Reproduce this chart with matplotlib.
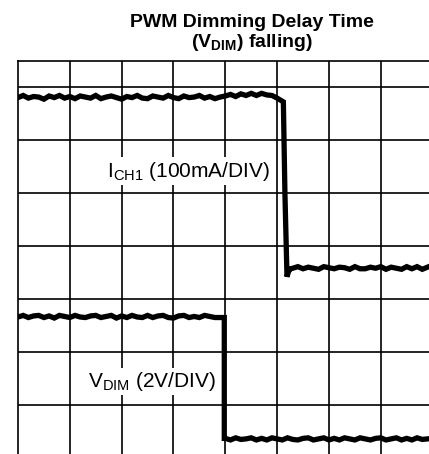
import numpy as np
from matplotlib import pyplot as plt

plt.rcParams['font.family'] = ['Liberation Sans', 'DejaVu Sans']
plt.rcParams['mathtext.fontset'] = 'custom'
plt.rcParams['mathtext.rm'] = 'Liberation Sans'
plt.rcParams['mathtext.bf'] = 'Liberation Sans:bold'

###
# Data (scope divisions)
###

# I_CH1 trace: high level, falling edge, low level
ich1_high = [6.80, 6.84, 6.79, 6.82, 6.81, 6.77, 6.83, 6.80, 6.84, 6.79,
             6.82, 6.78, 6.83, 6.81, 6.79, 6.84, 6.78, 6.81, 6.83, 6.80,
             6.77, 6.82, 6.80, 6.84, 6.79, 6.78, 6.83, 6.81, 6.79, 6.84,
             6.80, 6.78, 6.83, 6.80, 6.81, 6.84, 6.79, 6.82, 6.78, 6.81,
             6.83, 6.86, 6.82, 6.87, 6.84, 6.88, 6.84, 6.88, 6.85, 6.84,
             6.79]
ich1_edge_t = [5.05, 5.12, 5.15, 5.19, 5.22, 5.26]
ich1_edge_v = [6.76, 6.72, 5.00, 3.42, 3.52, 3.57]
ich1_low = [3.58, 3.61, 3.57, 3.60, 3.58, 3.56, 3.61, 3.59, 3.57, 3.60,
            3.59, 3.56, 3.61, 3.57, 3.57, 3.60, 3.58, 3.61, 3.56, 3.60,
            3.58, 3.56, 3.61, 3.57, 3.61, 3.56, 3.60]

# V_DIM trace: high level, edge, low level
vdim_high = [2.66, 2.69, 2.65, 2.68, 2.69, 2.65, 2.68, 2.64, 2.69, 2.67,
             2.65, 2.69, 2.66, 2.65, 2.68, 2.69, 2.65, 2.67, 2.69, 2.64,
             2.68, 2.65, 2.69, 2.66, 2.65, 2.69, 2.65, 2.68, 2.69, 2.65,
             2.64, 2.68, 2.69, 2.65, 2.67, 2.65, 2.69, 2.67, 2.65, 2.65]
vdim_edge_t = 3.98
vdim_low = [0.37, 0.34, 0.38, 0.35, 0.36, 0.38, 0.34, 0.37, 0.34, 0.38,
            0.36, 0.34, 0.38, 0.35, 0.34, 0.37, 0.38, 0.34, 0.36, 0.38,
            0.34, 0.37, 0.34, 0.38, 0.36, 0.34, 0.38, 0.36, 0.34, 0.37,
            0.38, 0.34, 0.36, 0.38, 0.34, 0.37, 0.34, 0.38, 0.35, 0.36]

step = 0.1

###
# Build the traces
###

ich1_x = np.concatenate([np.arange(len(ich1_high)) * step,
                         ich1_edge_t,
                         5.3 + np.arange(len(ich1_low)) * step])
ich1_y = np.concatenate([ich1_high, ich1_edge_v, ich1_low])

vdim_x = np.concatenate([np.arange(len(vdim_high)) * step,
                         [vdim_edge_t, vdim_edge_t],
                         vdim_edge_t + 0.02 + np.arange(len(vdim_low)) * step])
vdim_y = np.concatenate([vdim_high, [vdim_high[-1], vdim_low[0]], vdim_low])

###
# Plotting
###

fig = plt.figure(figsize=(4.29, 4.54), dpi=100)
ax = fig.add_axes([18 / 429, 0, 1 - 18 / 429, 1 - 60.7 / 454])

ax.set_xlim(0, 7.93)
ax.set_ylim(0.075, 7.496)
ax.set_xticks(range(1, 8))
ax.set_yticks(range(1, 8))
ax.tick_params(length=0, labelbottom=False, labelleft=False)
ax.grid(True, color='black', linewidth=1.2)
ax.set_axisbelow(True)
for side in ['right', 'bottom']:
	ax.spines[side].set_visible(False)
for side in ['left', 'top']:
	ax.spines[side].set_linewidth(1.2)

ax.plot(ich1_x, ich1_y, color='black', linewidth=3.8, solid_joinstyle='miter')
ax.plot(vdim_x, vdim_y, color='black', linewidth=3.8, solid_joinstyle='miter')

box = dict(facecolor='white', edgecolor='none', pad=1.5)
ax.text(1.72, 5.31, r'I$_\mathregular{CH1}$ (100mA/DIV)', fontsize=15,
        ha='left', va='baseline', bbox=box)
ax.text(1.35, 1.345, r'V$_\mathregular{DIM}$ (2V/DIV)', fontsize=15,
        ha='left', va='baseline', bbox=box)

fig.text(252 / 429, 1 - 27 / 454, 'PWM Dimming Delay Time', fontsize=14,
         fontweight='bold', ha='center', va='baseline')
fig.text(252 / 429, 1 - 47 / 454, r'(V$_\mathbf{DIM}$) falling)', fontsize=14,
         fontweight='bold', ha='center', va='baseline')

fig.savefig('out.png', dpi=100)
